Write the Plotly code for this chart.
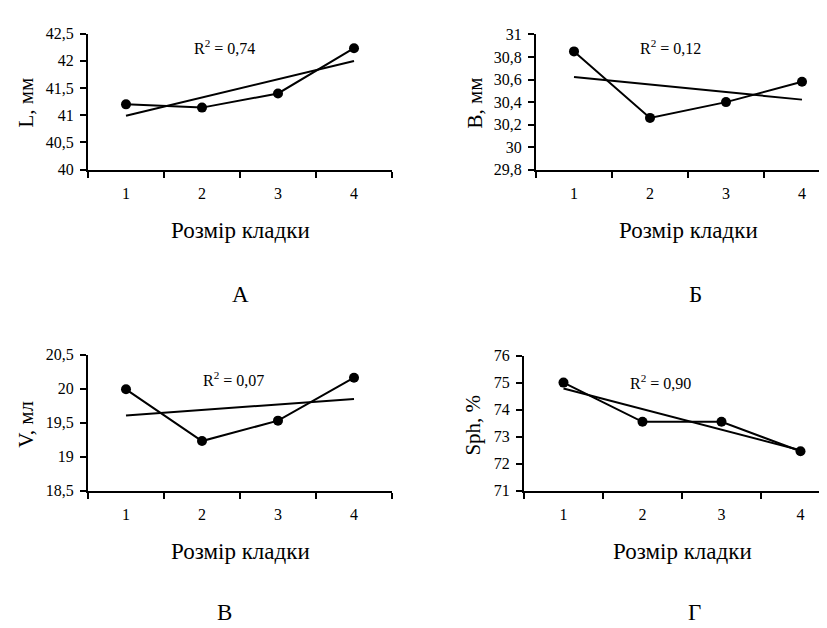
import numpy as np
import plotly.graph_objects as go

# ---------------- data ----------------
sizes = ["1", "2", "3", "4"]
x_num = [1, 2, 3, 4]
length_L = [41.2, 41.14, 41.4, 42.23]
breadth_B = [30.85, 30.26, 30.40, 30.58]
volume_V = [19.99, 19.23, 19.53, 20.16]
sphericity = [75.0, 73.55, 73.55, 72.46]
r2_labels = ["0,74", "0,12", "0,07", "0,90"]
y_titles = ["L, мм", "B, мм", "V, мл", "Sph, %"]
panel_letters = ["А", "Б", "В", "Г"]
x_title = "Розмір кладки"
series = [length_L, breadth_B, volume_V, sphericity]

# ---------------- layout (pixels) ----------------
W, H = 827, 628
FONT = "Liberation Serif, Times New Roman, serif"

def px(x):
    return x / W

def py(y):
    return 1 - y / H

panels = [
    dict(x0=80, x1=384, top=18, bot=158, yr=[40, 42.5], dt=0.5,
         ytx=18, yty=89, r2x=216, r2y=32, tx=232, ty=220, lx=232, ly=286),
    dict(x0=528, x1=832, top=19, bot=158, yr=[29.8, 31], dt=0.2,
         ytx=467, yty=90, r2x=662, r2y=32, tx=680, ty=220, lx=687, ly=286),
    dict(x0=80, x1=384, top=348, bot=488, yr=[18.5, 20.5], dt=0.5,
         ytx=18, yty=420, r2x=225, r2y=373, tx=232, ty=550, lx=217, ly=613),
    dict(x0=516, x1=832, top=349, bot=488, yr=[71, 76], dt=1,
         ytx=465, yty=421, r2x=652, r2y=376, tx=674, ty=550, lx=686, ly=613),
]

fig = go.Figure()
annotations = []

for i, (p, ys) in enumerate(zip(panels, series)):
    n = i + 1
    xa = "x" if n == 1 else f"x{n}"
    ya = "y" if n == 1 else f"y{n}"
    # data line with markers
    fig.add_trace(go.Scatter(
        x=sizes, y=ys, xaxis=xa, yaxis=ya, mode="lines+markers",
        line=dict(color="black", width=2),
        marker=dict(color="black", size=10), showlegend=False,
        hoverinfo="x+y"))
    # linear trend line
    k, b = np.polyfit(x_num, ys, 1)
    fig.add_trace(go.Scatter(
        x=[sizes[0], sizes[-1]], y=[k * x_num[0] + b, k * x_num[-1] + b],
        xaxis=xa, yaxis=ya, mode="lines",
        line=dict(color="black", width=2), showlegend=False,
        hoverinfo="skip"))

    unit = (p["x1"] - p["x0"]) / 4
    right = min(p["x1"], W)
    xr = [-0.5, -0.5 + (right - p["x0"]) / unit]
    xkey = "xaxis" if n == 1 else f"xaxis{n}"
    ykey = "yaxis" if n == 1 else f"yaxis{n}"
    fig.layout[xkey] = dict(
        domain=[px(p["x0"]), px(right)], anchor=ya, type="category",
        range=xr, tickson="boundaries", ticks="outside", ticklen=6,
        tickwidth=2, tickcolor="black", showline=True, linecolor="black",
        linewidth=2, showgrid=False, zeroline=False,
        tickfont=dict(family=FONT, size=16, color="black"),
        ticklabelstandoff=8)
    fig.layout[ykey] = dict(
        domain=[py(p["bot"]), py(p["top"])], anchor=xa, range=p["yr"],
        dtick=p["dt"], tick0=p["yr"][0], ticks="outside", ticklen=6,
        tickwidth=2, tickcolor="black", showline=True, linecolor="black",
        linewidth=2, showgrid=False, zeroline=False,
        tickfont=dict(family=FONT, size=16, color="black"),
        ticklabelstandoff=3)

    annotations += [
        dict(x=px(p["ytx"]), y=py(p["yty"]), text=y_titles[i], textangle=-90,
             font=dict(family=FONT, size=21, color="black")),
        dict(x=px(p["r2x"]), y=py(p["r2y"]),
             text=f"R<sup>2</sup> = {r2_labels[i]}",
             font=dict(family=FONT, size=16, color="black")),
        dict(x=px(p["tx"]), y=py(p["ty"]), text=x_title,
             font=dict(family=FONT, size=23, color="black")),
        dict(x=px(p["lx"]), y=py(p["ly"]), text=panel_letters[i],
             font=dict(family=FONT, size=23, color="black")),
    ]

for a in annotations:
    a.update(xref="paper", yref="paper", showarrow=False,
             xanchor="center", yanchor="middle")

fig.update_layout(
    width=W, height=H, margin=dict(l=0, r=0, t=0, b=0),
    paper_bgcolor="white", plot_bgcolor="white",
    separators=", ", annotations=annotations,
    font=dict(family=FONT, color="black"))

fig.write_html("out.html")
